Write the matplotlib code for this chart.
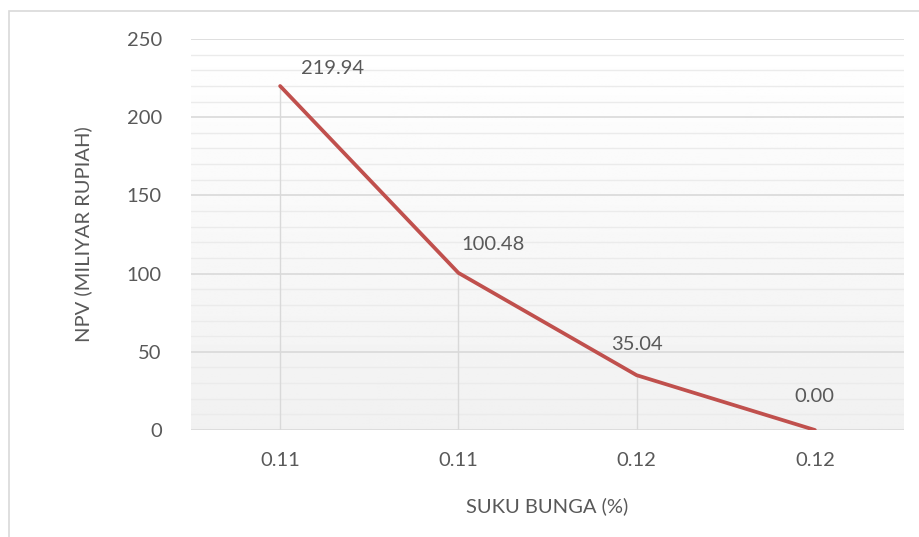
import numpy as np
import matplotlib
matplotlib.use('Agg')
import matplotlib.pyplot as plt
from matplotlib.patches import Rectangle

plt.rcParams['font.family'] = ['Lato', 'DejaVu Sans']

# data
categories = ['0.11', '0.11', '0.12', '0.12']
npv = [219.94, 100.48, 35.04, 0.00]
labels = ['219.94', '100.48', '35.04', '0.00']
label_offsets = [(52, 18), (35, 28), (0, 31), (0, 33)]  # px offsets for data labels

W, H = 919, 537
fig = plt.figure(figsize=(W / 100, H / 100), dpi=100)
ax = fig.add_axes([191 / W, 1 - 430 / H, 713 / W, 391 / H])

txt = '#595959'
fs = 14.5
x = np.arange(len(npv)) + 0.5

# gradient background of the plot area
grad = np.linspace(1.0, 0.945, 256).reshape(-1, 1)
ax.imshow(np.repeat(grad, 2, axis=1), cmap='gray', vmin=0, vmax=1,
          extent=[0, 4, 0, 250], aspect='auto', zorder=0, origin='upper')

# gridlines
for y in np.arange(10, 250, 10):
    if y % 50:
        ax.axhline(y, color='#ebebeb', lw=1.0, zorder=1)
for y in np.arange(0, 251, 50):
    ax.axhline(y, color='#d9d9d9', lw=1.2, zorder=1)

# drop lines
ax.vlines(x, 0, npv, color='#d9d9d9', lw=1.0, zorder=2)

ax.plot(x, npv, color='#c0504d', lw=2.7, solid_capstyle='round', zorder=3)

for xi, yi, lab, (dx, dy) in zip(x, npv, labels, label_offsets):
    ax.annotate(lab, (xi, yi), xytext=(dx * 0.72, dy * 0.72), textcoords='offset points',
                ha='center', va='center', fontsize=fs, color=txt)

ax.set_xlim(0, 4)
ax.set_ylim(0, 250)
ax.set_xticks(x)
ax.set_xticklabels(categories)
ax.set_yticks(np.arange(0, 251, 50))
ax.tick_params(length=0, labelsize=fs, colors=txt)
ax.tick_params(axis='y', pad=21)
ax.tick_params(axis='x', pad=16)
for s in ax.spines.values():
    s.set_visible(False)

ax.set_xlabel('SUKU BUNGA (%)', fontsize=fs, color=txt, labelpad=20)
ax.set_ylabel('NPV (MILIYAR RUPIAH)', fontsize=fs, color=txt, labelpad=25)

# chart border
fig.patches.append(Rectangle((9 / W, -0.1), 1.2, 1 - 11 / H + 0.1, transform=fig.transFigure,
                             fill=False, edgecolor='#d9d9d9', lw=1.2))

fig.savefig('out.png', dpi=100)
